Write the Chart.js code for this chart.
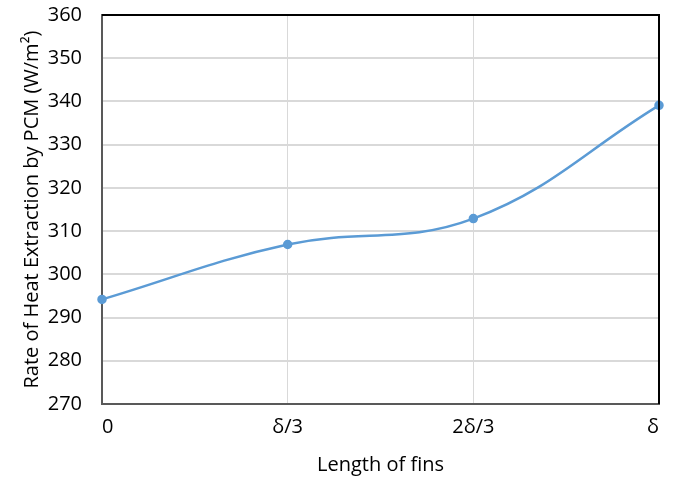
<!DOCTYPE html>
<html>
<head>
<meta charset="utf-8">
<script src="https://cdn.jsdelivr.net/npm/chart.js@4.4.0/dist/chart.umd.min.js"></script>
<style>
  html, body { margin: 0; padding: 0; background: #fff; }
  #wrap { width: 675px; height: 479px; }
</style>
</head>
<body>
<div id="wrap"><canvas id="lineChart"></canvas></div>
<script>
// dados
const finLengths = ['0', 'δ/3', '2δ/3', 'δ'];
const heatRates = [294.2, 306.9, 312.9, 339.1];
const yMin = 270;
const yMax = 360;
const yStep = 10;

// borda superior e direita em preto
const frameBorder = {
    id: 'frameBorder',
    afterDraw(chart) {
        const { ctx, chartArea: a } = chart;
        ctx.save();
        ctx.strokeStyle = '#000';
        ctx.lineWidth = 2;
        ctx.beginPath();
        ctx.moveTo(a.left, a.top);
        ctx.lineTo(a.right, a.top);
        ctx.lineTo(a.right, a.bottom);
        ctx.stroke();
        ctx.restore();
    }
};

const ctx = document.querySelector('#lineChart').getContext('2d');
const lineChart = new Chart(ctx, {
    type: 'line',
    data: {
        labels: finLengths,
        datasets: [{
            data: heatRates,
            borderColor: '#5b9bd5',
            backgroundColor: '#5b9bd5',
            borderWidth: 2.5,
            pointRadius: 3.5,
            pointHoverRadius: 3.5,
            tension: 0.4,
            fill: false,
        }],
    },
    options: {
        responsive: true,
        maintainAspectRatio: false,
        animation: false,
        layout: { padding: { top: 15, right: 16, bottom: 0, left: 16 } },
        plugins: {
            legend: { display: false },
            tooltip: { enabled: false },
        },
        scales: {
            x: {
                offset: false,
                afterFit: axis => { axis.paddingLeft = 0; axis.paddingRight = 0; },
                grid: { color: '#d9d9d9', lineWidth: 1, drawTicks: false },
                border: { color: '#595959', width: 2 },
                ticks: {
                    align: 'inner',
                    padding: 11,
                    color: '#000',
                    font: { family: 'Open Sans', size: 20 },
                    maxRotation: 0,
                },
                title: {
                    display: true,
                    text: 'Length of fins',
                    color: '#000',
                    font: { family: 'Open Sans', size: 20 },
                    padding: { top: 3, bottom: 2 },
                },
            },
            y: {
                min: yMin,
                max: yMax,
                afterFit: axis => {
                    axis.width = 86;
                    axis.paddingTop = 0;
                    axis.paddingBottom = 0;
                },
                ticks: {
                    stepSize: yStep,
                    padding: 20,
                    color: '#000',
                    font: { family: 'Open Sans', size: 20 },
                },
                grid: { color: '#d9d9d9', lineWidth: 2, drawTicks: false },
                border: { color: '#595959', width: 2 },
                title: {
                    display: true,
                    text: 'Rate of Heat Extraction by PCM (W/m²)',
                    color: '#000',
                    font: { family: 'Open Sans', size: 20 },
                    padding: { bottom: 2 },
                },
            },
        },
    },
    plugins: [frameBorder],
});
</script>
</body>
</html>
